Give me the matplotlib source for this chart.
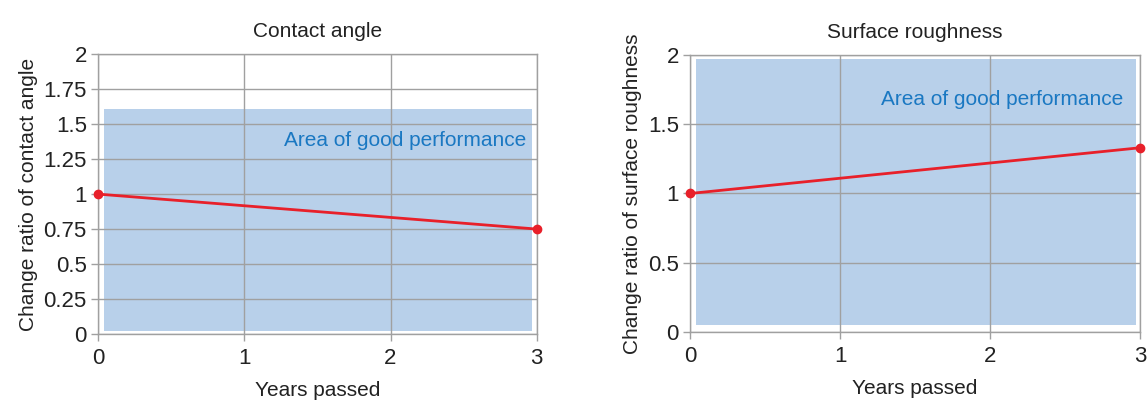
import matplotlib.pyplot as plt

plt.rcParams['font.family'] = ['Liberation Sans', 'DejaVu Sans']

# data
years = [0, 3]
contact_angle = [1.0, 0.75]
roughness = [1.0, 1.33]

x_ticks = [0, 1, 2, 3]
ca_ticks = [0, 0.25, 0.5, 0.75, 1, 1.25, 1.5, 1.75, 2]
ca_labels = ['0', '0.25', '0.5', '0.75', '1', '1.25', '1.5', '1.75', '2']
sr_ticks = [0, 0.5, 1, 1.5, 2]
sr_labels = ['0', '0.5', '1', '1.5', '2']

# good-performance boxes (x0, x1, y0, y1)
ca_box = (0.04, 2.97, 0.02, 1.61)
sr_box = (0.04, 2.97, 0.05, 1.97)

grid_col = '#a0a0a0'
fill_col = '#b8d0ea'
red = '#e8202a'
blue_txt = '#1a78c2'

fig = plt.figure(figsize=(11.47, 4.01), dpi=100)
ax1 = fig.add_axes([0.0854, 0.167, 0.3826, 0.698])
ax2 = fig.add_axes([0.6016, 0.172, 0.3923, 0.691])


def style(ax, yt, yl, box, title, ylabel, txt_y, txt_dx):
    x0, x1, y0, y1 = box
    ax.fill_between([x0, x1], y0, y1, color=fill_col, lw=0, zorder=1)
    ax.set_xlim(0, 3)
    ax.set_ylim(0, 2)
    ax.set_xticks(x_ticks)
    ax.set_yticks(yt)
    ax.set_yticklabels(yl)
    ax.grid(True, color=grid_col, lw=1.0, zorder=2)
    ax.set_axisbelow(False)
    for s in ax.spines.values():
        s.set_color(grid_col)
        s.set_linewidth(1.0)
    ax.tick_params(axis='both', colors=grid_col, labelcolor='#222222',
                   labelsize=16, length=5, width=1.0)
    ax.tick_params(axis='x', pad=5)
    ax.tick_params(axis='y', pad=3)
    ax.set_title(title, fontsize=15, color='#222222', pad=12)
    ax.set_xlabel('Years passed', fontsize=15, color='#222222', labelpad=9)
    ax.set_ylabel(ylabel, fontsize=15, color='#222222', labelpad=4)
    ax.text(x1 - txt_dx, txt_y, 'Area of good performance', color=blue_txt,
            fontsize=15, ha='right', va='center', zorder=3)


style(ax1, ca_ticks, ca_labels, ca_box, 'Contact angle',
      'Change ratio of contact angle', 1.38, 0.04)
style(ax2, sr_ticks, sr_labels, sr_box, 'Surface roughness',
      'Change ratio of surface roughness', 1.68, 0.08)

ax1.plot(years, contact_angle, color=red, lw=2, marker='o', ms=6,
         clip_on=False, zorder=4)
ax2.plot(years, roughness, color=red, lw=2, marker='o', ms=6,
         clip_on=False, zorder=4)

fig.savefig('out.png', dpi=100)
